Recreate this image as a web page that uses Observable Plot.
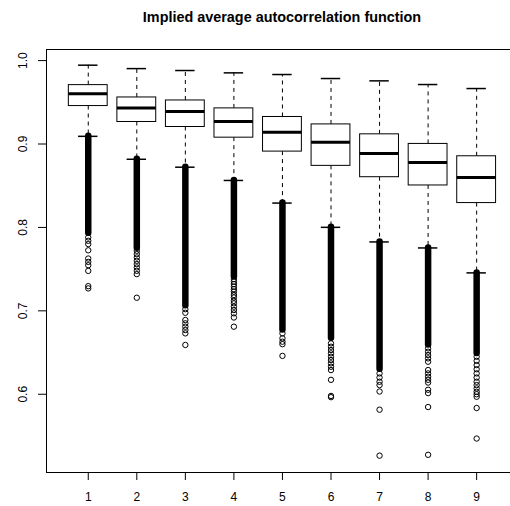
<!DOCTYPE html>
<html>
<head>
<meta charset="utf-8">
<script src="https://cdn.jsdelivr.net/npm/d3@7"></script>
<script src="https://cdn.jsdelivr.net/npm/@observablehq/plot@0.6"></script>
<style>
  html, body { margin: 0; padding: 0; background: #fff; overflow: hidden; }
  #wrap { position: relative; width: 510px; height: 506px; font-family: "Liberation Sans", Arial, Helvetica, sans-serif; }
  #title { position: absolute; left: 282px; top: 2px; transform: translateX(-50%); white-space: nowrap;
           font-weight: bold; font-size: 14.4px; line-height: 30px; height: 30px; color: #000; }
  #chart { position: absolute; left: 0; top: 30px; }
</style>
</head>
<body>
<div id="wrap">
  <div id="title"></div>
  <div id="chart"></div>
</div>
<script>
// ---- data ----
const categories = [1, 2, 3, 4, 5, 6, 7, 8, 9];
const upperWhisker = [0.9945, 0.9904, 0.9881, 0.9853, 0.9833, 0.9785, 0.9757, 0.9713, 0.9665];
const upperQuartile = [0.9706, 0.9558, 0.9522, 0.9427, 0.9324, 0.9235, 0.9116, 0.9001, 0.8853];
const medians = [0.9602, 0.9431, 0.9391, 0.9271, 0.9140, 0.9020, 0.8885, 0.8778, 0.8599];
const lowerQuartile = [0.9455, 0.9264, 0.9204, 0.9076, 0.8909, 0.8738, 0.8602, 0.8503, 0.8292];
const lowerWhisker = [0.9092, 0.8817, 0.8722, 0.8563, 0.8292, 0.8001, 0.7826, 0.7754, 0.7455];
// outliers are so many that they merge into a solid column from the whisker down to this value
const denseOutlierEnd = [0.793, 0.775, 0.706, 0.741, 0.677, 0.667, 0.630, 0.659, 0.649];
// individually visible outliers below the solid column
const sparseOutliers = [
  [0.788, 0.784, 0.780, 0.7726, 0.7627, 0.7587, 0.7547, 0.7479, 0.7296, 0.7269],
  [0.772, 0.768, 0.764, 0.760, 0.756, 0.752, 0.748, 0.744, 0.7157],
  [0.702, 0.6977, 0.689, 0.685, 0.681, 0.677, 0.673, 0.6591],
  [0.738, 0.735, 0.732, 0.729, 0.726, 0.723, 0.719, 0.716, 0.712, 0.709, 0.705, 0.701, 0.697, 0.692, 0.681],
  [0.673, 0.667, 0.663, 0.660, 0.646],
  [0.661, 0.657, 0.653, 0.649, 0.645, 0.641, 0.637, 0.633, 0.629, 0.6173, 0.598, 0.5965],
  [0.625, 0.620, 0.615, 0.611, 0.6033, 0.5815, 0.5264],
  [0.655, 0.651, 0.647, 0.643, 0.639, 0.629, 0.625, 0.621, 0.6173, 0.614, 0.6054, 0.6014, 0.5847, 0.5274],
  [0.645, 0.640, 0.635, 0.630, 0.625, 0.620, 0.615, 0.611, 0.607, 0.603, 0.600, 0.597, 0.5835, 0.5469]
];
const yTicks = [0.6, 0.7, 0.8, 0.9, 1.0];
const titleText = "Implied average autocorrelation function";

// ---- build tables ----
const boxes = categories.map((c, i) => ({
  cat: c,
  upper: upperWhisker[i],
  q3: upperQuartile[i],
  med: medians[i],
  q1: lowerQuartile[i],
  lower: lowerWhisker[i],
  dense: denseOutlierEnd[i]
}));
const outliers = categories.flatMap((c, i) => sparseOutliers[i].map(v => ({cat: c, v})));

document.getElementById("title").textContent = titleText;

const halfBox = 0.4, halfCap = 0.2;
const xDomain = [0.14, 0.14 + (510 - 46) / 48.55];
const yDomain = [0.5062, 1.0133];
const dash = "4,4";

const chart = Plot.plot({
  width: 510,
  height: 476,
  marginTop: 19,
  marginBottom: 34,
  marginLeft: 46,
  marginRight: 0,
  style: {fontFamily: "'Liberation Sans', Arial, Helvetica, sans-serif", fontSize: "12px", background: "white", color: "black"},
  x: {domain: xDomain, label: null},
  y: {domain: yDomain, label: null},
  marks: [
    // whiskers
    Plot.ruleX(boxes, {x: "cat", y1: "q3", y2: "upper", stroke: "black", strokeWidth: 1, strokeDasharray: dash}),
    Plot.ruleX(boxes, {x: "cat", y1: "q1", y2: "lower", stroke: "black", strokeWidth: 1, strokeDasharray: dash}),
    // boxes
    Plot.rect(boxes, {x1: d => d.cat - halfBox, x2: d => d.cat + halfBox, y1: "q1", y2: "q3", fill: "white", stroke: "black", strokeWidth: 1}),
    // medians
    Plot.ruleY(boxes, {y: "med", x1: d => d.cat - halfBox, x2: d => d.cat + halfBox, stroke: "black", strokeWidth: 3}),
    // staples
    Plot.ruleY(boxes, {y: "upper", x1: d => d.cat - halfCap, x2: d => d.cat + halfCap, stroke: "black", strokeWidth: 1.5}),
    Plot.ruleY(boxes, {y: "lower", x1: d => d.cat - halfCap, x2: d => d.cat + halfCap, stroke: "black", strokeWidth: 1.5}),
    // merged outliers
    Plot.ruleX(boxes, {x: "cat", y1: "lower", y2: "dense", stroke: "black", strokeWidth: 6.5, strokeLinecap: "round"}),
    // individual outliers
    Plot.dot(outliers, {x: "cat", y: "v", r: 2.7, stroke: "black", strokeWidth: 1, fill: "none"}),
    // frame (right side lies outside the picture)
    Plot.ruleX([xDomain[0]], {stroke: "black"}),
    Plot.ruleY([yDomain[0], yDomain[1]], {stroke: "black"}),
    // axes
    Plot.axisX({ticks: categories, tickSize: 8, tickPadding: 12, tickFormat: d => String(d), fontSize: 12}),
    Plot.axisY({ticks: yTicks, tickSize: 8, tickFormat: () => ""}),
    Plot.text(yTicks, {x: xDomain[0], y: d => d, text: d => d.toFixed(1), rotate: -90, dx: -23.5, fontSize: 12, textAnchor: "middle"})
  ]
});
document.getElementById("chart").appendChild(chart);
</script>
</body>
</html>
